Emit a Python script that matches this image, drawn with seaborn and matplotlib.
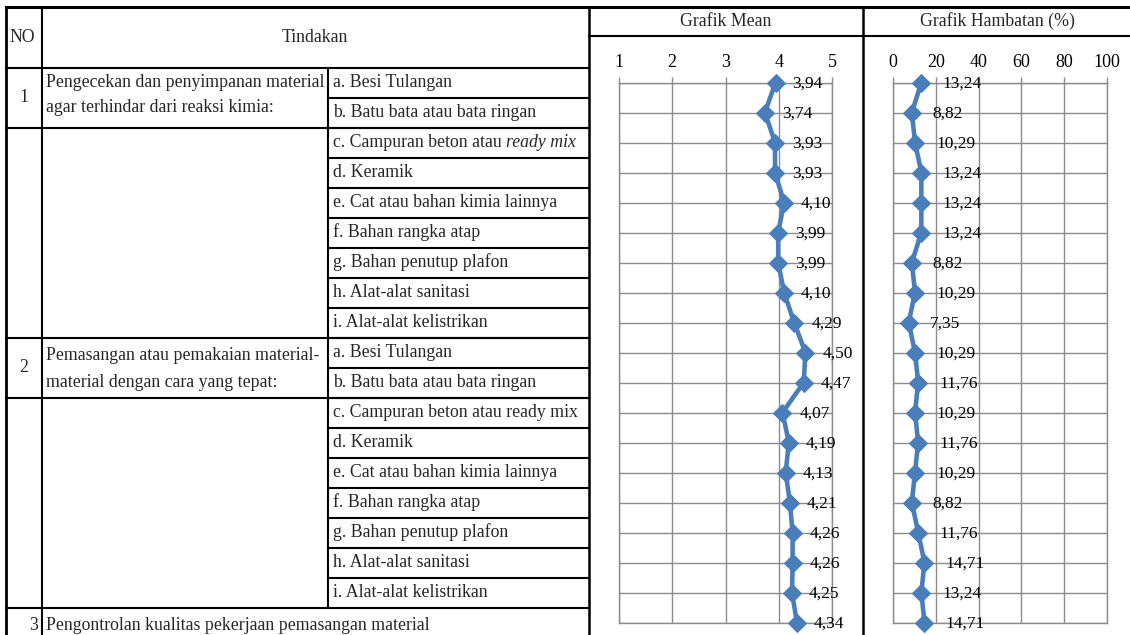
import numpy as np
import pandas as pd
import matplotlib
matplotlib.use("Agg")
import matplotlib.pyplot as plt
import seaborn as sns

# ---- data -------------------------------------------------------------
header_no = "NO"
header_action = "Tindakan"
title_mean = "Grafik Mean"
title_hambatan = "Grafik Hambatan (%)"

group_numbers = ["1", "2", "3"]
group_1_lines = ["Pengecekan dan penyimpanan material",
                 "agar terhindar dari reaksi kimia:"]
group_2_lines = ["Pemasangan atau pemakaian material-",
                 "material dengan cara yang tepat:"]
group_3_text = "Pengontrolan kualitas pekerjaan pemasangan material"

sub_items_1 = ["a. Besi Tulangan", "b. Batu bata atau bata ringan",
               "c. Campuran beton atau ", "d. Keramik",
               "e. Cat atau bahan kimia lainnya", "f. Bahan rangka atap",
               "g. Bahan penutup plafon", "h. Alat-alat sanitasi",
               "i. Alat-alat kelistrikan"]
sub_item_1c_italic = "ready mix"
sub_items_2 = ["a. Besi Tulangan", "b. Batu bata atau bata ringan",
               "c. Campuran beton atau ready mix", "d. Keramik",
               "e. Cat atau bahan kimia lainnya", "f. Bahan rangka atap",
               "g. Bahan penutup plafon", "h. Alat-alat sanitasi",
               "i. Alat-alat kelistrikan"]

mean_scores = [3.94, 3.74, 3.93, 3.93, 4.10, 3.99, 3.99, 4.10, 4.29,
               4.50, 4.47, 4.07, 4.19, 4.13, 4.21, 4.26, 4.26, 4.25,
               4.34]
hambatan_pct = [13.24, 8.82, 10.29, 13.24, 13.24, 13.24, 8.82, 10.29, 7.35,
                10.29, 11.76, 10.29, 11.76, 10.29, 8.82, 11.76, 14.71, 13.24,
                14.71]

mean_ticks = [1, 2, 3, 4, 5]
hambatan_ticks = [0, 20, 40, 60, 80, 100]

# ---- style ------------------------------------------------------------
sns.set_theme(style="white")
plt.rcParams["font.family"] = ["Liberation Serif", "DejaVu Serif"]

BLUE = "#4A7EBB"
GRID = "#8C8C8C"
INK = "#000000"
FS = 12.8       # table text
FS_TICK = 13.0  # chart axis numbers
FS_LBL = 12.5   # data labels

W, H = 1130, 635
fig = plt.figure(figsize=(W / 100, H / 100), dpi=100)
fig.patch.set_facecolor("white")

# full-figure layer in pixel units for the table frame and texts
bg = fig.add_axes([0, 0, 1, 1])
bg.set_xlim(0, W)
bg.set_ylim(H, 0)
bg.axis("off")


def hline(y, x0, x1, lw=1.5):
    bg.plot([x0, x1], [y, y], color=INK, lw=lw, solid_capstyle="projecting")


def vline(x, y0, y1, lw=1.5):
    bg.plot([x, x], [y0, y1], color=INK, lw=lw, solid_capstyle="projecting")


# column edges
X_LEFT, X_NO, X_SUB, X_MEAN, X_HAMB, X_RIGHT = 6, 42, 328, 589, 863, 1131
Y_TOP, Y_HEAD, Y_CHART_HEAD = 7, 67.5, 36
ROW_H = 30
n_rows = len(mean_scores)
row_edges = [Y_HEAD + ROW_H * k for k in range(n_rows)]  # top of each row
row_centers = [e + ROW_H / 2 for e in row_edges]

# outer frame and header
hline(Y_TOP, X_LEFT, X_RIGHT, lw=2.2)
vline(X_LEFT, Y_TOP, H + 2, lw=2.0)
vline(X_NO, Y_TOP, H + 2)
vline(X_MEAN, Y_TOP, H + 2, lw=1.8)
vline(X_HAMB, Y_TOP, H + 2, lw=1.8)
hline(Y_HEAD, X_LEFT, X_MEAN)
hline(Y_CHART_HEAD, X_MEAN, X_RIGHT)

# sub-item column and its row separators
y_last = row_edges[-1]
vline(X_SUB, Y_HEAD, y_last)
for e in row_edges[1:-1]:
    hline(e, X_SUB, X_MEAN)
# group separators across the first columns
for k in (2, 9, 11, 18):
    hline(row_edges[k], X_LEFT, X_MEAN)

# header texts
bg.text(9, 38, header_no, fontsize=FS, va="center", ha="left")
bg.text(315, 38, header_action, fontsize=FS, va="center", ha="center")
bg.text((X_MEAN + X_HAMB) / 2, 21, title_mean, fontsize=FS, va="center", ha="center")
bg.text((X_HAMB + X_RIGHT) / 2, 21, title_hambatan, fontsize=FS, va="center", ha="center")

# group numbers and descriptions
bg.text(24, row_edges[0] + ROW_H, group_numbers[0], fontsize=FS, va="center", ha="center")
bg.text(46, row_edges[0] + 15, group_1_lines[0], fontsize=FS, va="center", ha="left")
bg.text(46, row_edges[0] + 40, group_1_lines[1], fontsize=FS, va="center", ha="left")
bg.text(24, row_edges[9] + ROW_H, group_numbers[1], fontsize=FS, va="center", ha="center")
bg.text(46, row_edges[9] + 18, group_2_lines[0], fontsize=FS, va="center", ha="left")
bg.text(46, row_edges[9] + 45, group_2_lines[1], fontsize=FS, va="center", ha="left")
bg.text(38, row_centers[18] + 3, group_numbers[2], fontsize=FS, va="center", ha="right")
bg.text(46, row_centers[18] + 3, group_3_text, fontsize=FS, va="center", ha="left")

# sub-items
for i, label in enumerate(sub_items_1):
    t = bg.text(333, row_centers[i], label, fontsize=FS, va="center", ha="left")
    if i == 2:
        bg.annotate(sub_item_1c_italic, xy=(1, 0.5), xycoords=t,
                    fontsize=FS, va="center", ha="left", style="italic")
for i, label in enumerate(sub_items_2):
    bg.text(333, row_centers[9 + i], label, fontsize=FS, va="center", ha="left")


# ---- the two charts ---------------------------------------------------
def draw_chart(x0, x1, values, ticks, label_dx):
    top = row_centers[0]
    bottom = row_centers[-1]
    ax = fig.add_axes([x0 / W, 1 - bottom / H, (x1 - x0) / W, (bottom - top) / H])
    ax.set_facecolor("none")
    df = pd.DataFrame({"value": values, "pos": np.arange(len(values))})
    sns.lineplot(data=df, x="value", y="pos", orient="y", sort=False,
                 estimator=None, color=BLUE, lw=3.3, marker="D",
                 markersize=9.5, markeredgecolor=BLUE, ax=ax, zorder=3)
    for ln in ax.lines:
        ln.set_clip_on(False)
    ax.set_xlim(ticks[0], ticks[-1])
    ax.set_ylim(len(values) - 1, 0)
    ax.set_xticks(ticks)
    ax.set_xticklabels([str(t) for t in ticks])
    ax.set_yticks(np.arange(len(values)))
    ax.set_yticklabels([])
    ax.set_axisbelow(True)
    ax.grid(True, color=GRID, lw=1.0)
    ax.xaxis.tick_top()
    ax.tick_params(axis="x", which="both", top=True, bottom=False,
                   direction="out", length=4.3, width=1.0, color=GRID,
                   pad=4.0, labelsize=FS_TICK, labelcolor=INK)
    ax.tick_params(axis="y", left=False, right=False, length=0)
    for s in ax.spines.values():
        s.set_color(GRID)
        s.set_linewidth(1.0)
    ax.set_xlabel("")
    ax.set_ylabel("")
    for i, v in enumerate(values):
        ax.annotate(f"{v:.2f}".replace(".", ","), (v, i),
                    xytext=(label_dx, -1), textcoords="offset pixels",
                    ha="left", va="center", fontsize=FS_LBL, color=INK,
                    annotation_clip=False, zorder=4)
    return ax


draw_chart(619, 832, mean_scores, mean_ticks, 17)
draw_chart(893, 1107, hambatan_pct, hambatan_ticks, 21)

fig.savefig("out.png", dpi=100, facecolor="white")
